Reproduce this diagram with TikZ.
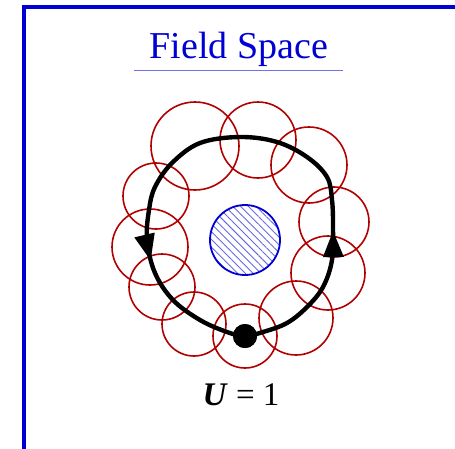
\documentclass[tikz,border=0pt]{standalone}
\usepackage{fontspec}
\setmainfont{Liberation Serif}
\usetikzlibrary{arrows.meta,positioning,decorations.markings,patterns.meta}
\definecolor{FrameBlue}{HTML}{0000D4}
\definecolor{RuleBlue}{HTML}{7070E8}
\definecolor{HatchBlue}{HTML}{6868E0}
\definecolor{RingRed}{HTML}{B00000}
\tikzset{
  fs/frame/.style={draw=FrameBlue, line width=4pt},
  fs/title/.style={text=FrameBlue, font=\fontsize{38}{42}\selectfont, inner sep=0pt},
  fs/rule/.style={draw=RuleBlue, line width=1pt},
  fs/patch/.style={draw=RingRed, line width=1.6pt, circle, inner sep=0pt},
  fs/hole/.style={draw=FrameBlue, line width=1.8pt, circle, inner sep=0pt, minimum size=70pt,
    pattern={Lines[angle=-45,distance=5.5pt,line width=0.9pt]}, pattern color=HatchBlue},
  fs/loop/.style={line width=4.4pt, line join=round,
    decoration={markings,
      mark=at position 0.214 with {\fill (3,0) -- (-23,10.5) -- (-23,-10.5) -- cycle;},
      mark=at position 0.757 with {\fill (3,0) -- (-23,10.5) -- (-23,-10.5) -- cycle;}},
    postaction={decorate}},
  fs/base/.style={circle, fill=black, inner sep=0pt, minimum size=24pt},
  fs/label/.style={font=\fontsize{33}{36}\selectfont, inner sep=0pt}
}
\begin{document}
\begin{tikzpicture}[x=1pt, y=-1pt]
  \useasboundingbox (0,0) rectangle (455,448);
  \clip (0,0) rectangle (455,448);
  \draw[fs/frame] (23.5,7) rectangle (480,480);

  % title
  \node[fs/title, anchor=base] (title) at (239,58) {Field Space};
  \draw[fs/rule] (134,70) -- (343,70);

  % covering patches
  \foreach \x/\y/\r [count=\i] in {195/146/44, 258/140/38, 309/165/38, 156/196/33,
      150/247/38, 162/287/33, 194/324/32, 245/336/32, 296/318/37, 328/273/37, 334/222/35}
    \node[fs/patch, minimum size=2*\r pt] (patch\i) at (\x,\y) {};

  % excluded region
  \node[fs/hole] (hole) at (245,240) {};

  % loop through the base point
  \node[fs/base] (base) at (245,336) {};
  \draw[fs/loop] plot[smooth cycle, tension=0.6] coordinates {
      (base.center) (263,332) (287,323) (307,307) (323,287) (332,260) (333,227)
      (332,200) (327,177) (307,157) (277,142) (240,137) (200,143) (172,163)
      (155,187) (149,210) (147,240) (155,273) (173,300) (200,320) (227,332)};
  \node[fs/base] at (base) {};

  \node[fs/label, anchor=base] (unity) at (241,405) {\textbf{\textit{U}} = 1};
\end{tikzpicture}
\end{document}
